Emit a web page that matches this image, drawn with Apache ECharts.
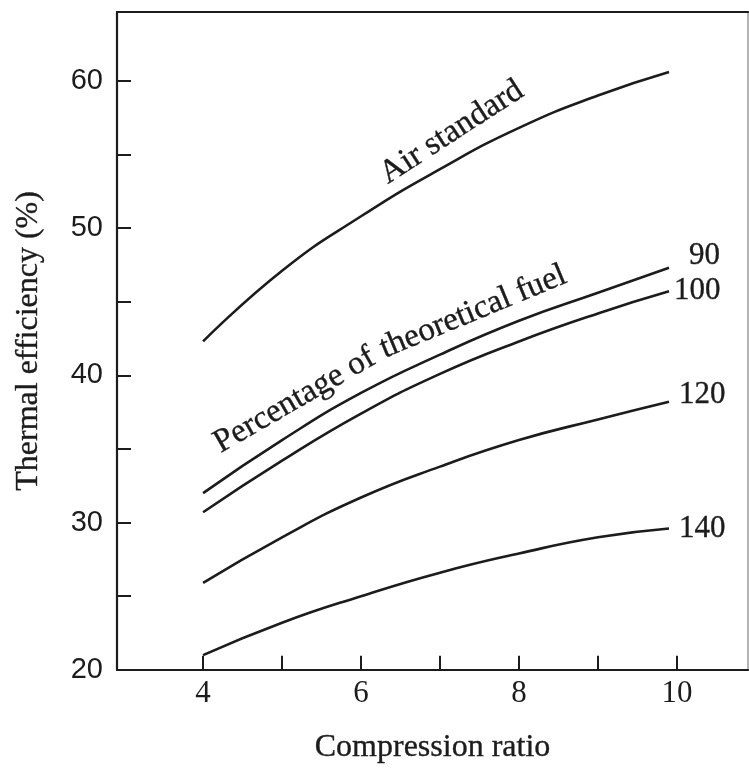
<!DOCTYPE html>
<html>
<head>
<meta charset="utf-8">
<script src="https://cdn.jsdelivr.net/npm/echarts@6/dist/echarts.min.js"></script>
<style>
html,body{margin:0;padding:0;background:#fff;}
#c{width:749px;height:769px;}
</style>
</head>
<body>
<div id="c"></div>
<script>
// ---- data ----
const compressionRatio = [4, 5, 6, 7, 8, 9, 9.9];
const airStandard = [42.3, 47.1, 50.8, 54.0, 56.8, 59.0, 60.6];
const fuel90  = [32.0, 35.6, 38.8, 41.4, 43.7, 45.6, 47.3];
const fuel100 = [30.7, 34.2, 37.4, 40.1, 42.3, 44.2, 45.7];
const fuel120 = [25.9, 29.0, 31.7, 33.8, 35.6, 37.0, 38.2];
const fuel140 = [21.0, 23.2, 25.0, 26.6, 27.9, 29.0, 29.6];
const xTickValues = [4, 5, 6, 7, 8, 9, 10];
const xLabelValues = [4, 6, 8, 10];
const yTickValues = [25, 30, 35, 40, 45, 50, 55, 60];
const yLabelValues = [20, 30, 40, 50, 60];

const INK = '#1c1c1c';
const SERIF = '"Liberation Serif", "Times New Roman", serif';
const SANS = '"Liberation Sans", Arial, sans-serif';
const THICK = {textBorderColor: INK, textBorderWidth: 0.35};

function pairs(ys){ return compressionRatio.map((x,i)=>[x, ys[i]]); }

function lineSeries(name, ys, endOffset){
  const s = {
    name: name, type: 'line', data: pairs(ys), smooth: 0.5,
    showSymbol: false, symbol: 'none',
    lineStyle: {color: INK, width: 2.6}, silent: true, z: 3
  };
  if (endOffset) {
    s.endLabel = Object.assign({show: true, formatter: name, color: INK, fontFamily: SERIF,
      fontSize: 31, distance: 0, offset: endOffset}, THICK);
  }
  return s;
}

const chart = echarts.init(document.getElementById('c'), null, {renderer: 'canvas'});
const option = {
  backgroundColor: '#fff',
  animation: false,
  grid: {left: 117, top: 12, right: 1, bottom: 97, containLabel: false},
  xAxis: [{
    type: 'value', min: 2.91, max: 10.9, position: 'bottom',
    name: 'Compression ratio', nameLocation: 'middle', nameGap: 62,
    nameTextStyle: Object.assign({fontFamily: SERIF, fontSize: 32, color: INK}, THICK),
    axisLine: {show: true, onZero: false, lineStyle: {color: INK, width: 2.2}},
    axisTick: {show: true, inside: true, length: 14, customValues: xTickValues, lineStyle: {color: INK, width: 2}},
    axisLabel: {show: true, customValues: xLabelValues, fontFamily: SERIF, fontSize: 31, color: INK, margin: 9},
    splitLine: {show: false}
  }, {
    type: 'value', min: 2.91, max: 10.9, position: 'top',
    axisLine: {show: true, onZero: false, lineStyle: {color: INK, width: 2.2}},
    axisTick: {show: false}, axisLabel: {show: false}, splitLine: {show: false}
  }],
  yAxis: [{
    type: 'value', min: 20, max: 64.67, position: 'left',
    name: 'Thermal efficiency (%)', nameLocation: 'middle', nameGap: 72,
    nameTextStyle: Object.assign({fontFamily: SERIF, fontSize: 32, color: INK}, THICK),
    axisLine: {show: true, onZero: false, lineStyle: {color: INK, width: 2.2}},
    axisTick: {show: true, inside: true, length: 14, customValues: yTickValues, lineStyle: {color: INK, width: 2}},
    axisLabel: {show: true, customValues: yLabelValues, fontFamily: SANS, fontSize: 29, color: INK, margin: 14},
    splitLine: {show: false}
  }, {
    type: 'value', min: 20, max: 64.67, position: 'right',
    axisLine: {show: true, onZero: false, lineStyle: {color: '#9a9a9a', width: 1.5}},
    axisTick: {show: false}, axisLabel: {show: false}, splitLine: {show: false}
  }],
  series: [
    lineSeries('Air standard', airStandard, null),
    lineSeries('90', fuel90, [20, -12]),
    lineSeries('100', fuel100, [5, 0]),
    lineSeries('120', fuel120, [10, -7]),
    lineSeries('140', fuel140, [10, 0])
  ]
};
chart.setOption(option);

// curve annotations anchored at data coordinates
const notes = [
  {text: 'Air standard', at: [7.15, 56.5], angle: 33},
  {text: 'Percentage of', at: [5.16, 38.3], angle: 30},
  {text: 'theoretical fuel', at: [7.42, 44.3], angle: 22.5}
];
chart.setOption({
  graphic: notes.map(n => {
    const p = chart.convertToPixel({gridIndex: 0}, n.at);
    return {
      type: 'text', x: p[0], y: p[1], rotation: n.angle * Math.PI / 180, silent: true,
      style: {text: n.text, fontFamily: SERIF, fontSize: 33, fill: INK,
        stroke: INK, lineWidth: 0.35, align: 'center', verticalAlign: 'middle'}
    };
  })
});
</script>
</body>
</html>
